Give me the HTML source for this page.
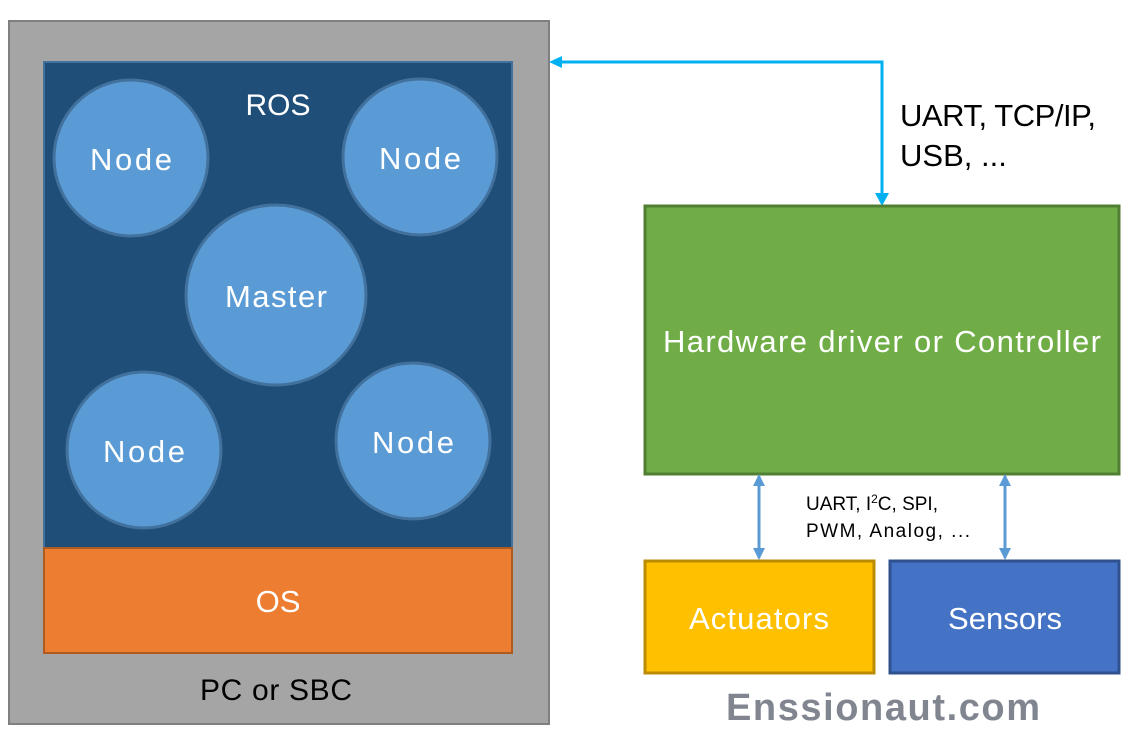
<!DOCTYPE html>
<html><head><meta charset="utf-8"><style>body{margin:0;background:#fff}svg{display:block}text{font-family:"Liberation Sans",sans-serif}</style></head><body>
<svg width="1148" height="733" viewBox="0 0 1148 733" xmlns="http://www.w3.org/2000/svg">
<defs>
<marker id="b" markerWidth="12" markerHeight="12" refX="10" refY="6" orient="auto-start-reverse" markerUnits="userSpaceOnUse"><path d="M0,0 L12,6 L0,12 z" fill="#5b9bd5"/></marker>
</defs>
<rect x="9" y="21" width="540" height="703" fill="#a5a5a5" stroke="#7f7f7f" stroke-width="2"/>
<rect x="44" y="62" width="468" height="486" fill="#1f4e79" stroke="#41719c" stroke-width="2"/>
<rect x="44" y="548" width="468" height="105" fill="#ed7d31" stroke="#ae5a21" stroke-width="2"/>
<text x="278" y="115" font-size="30" fill="#fff" text-anchor="middle">ROS</text>
<g fill="#5b9bd5" stroke="#41719c" stroke-width="3">
<ellipse cx="131" cy="158" rx="77" ry="78"/>
<ellipse cx="420" cy="157" rx="77" ry="78"/>
<ellipse cx="276" cy="295" rx="90" ry="90"/>
<ellipse cx="144" cy="450" rx="77" ry="78"/>
<ellipse cx="413" cy="441" rx="77" ry="78"/>
</g>
<g font-size="31" fill="#fff" text-anchor="middle">
<text x="131" y="170" textLength="82">Node</text>
<text x="420" y="169" textLength="82">Node</text>
<text x="276" y="307" textLength="102">Master</text>
<text x="144" y="462" textLength="82">Node</text>
<text x="413" y="453" textLength="82">Node</text>
<text x="278" y="612">OS</text>
</g>
<text x="276" y="700" font-size="30" fill="#000" text-anchor="middle" textLength="152">PC or SBC</text>
<polyline points="882,198 882,62 560,62" fill="none" stroke="#00b0f0" stroke-width="3"/>
<path d="M549,62 L562,56 L562,68 z" fill="#00b0f0"/>
<path d="M875,193 L882,206 L889,193 z" fill="#00b0f0"/>
<text x="900" y="126" font-size="31" fill="#000" textLength="196">UART, TCP/IP,</text>
<text x="900" y="166" font-size="31" fill="#000">USB, ...</text>
<rect x="645" y="206" width="474" height="268" fill="#70ad47" stroke="#507e32" stroke-width="3"/>
<text x="882" y="352" font-size="31" fill="#fff" text-anchor="middle" textLength="438">Hardware driver or Controller</text>
<line x1="759" y1="476" x2="759" y2="558" stroke="#5b9bd5" stroke-width="3" marker-start="url(#b)" marker-end="url(#b)"/>
<line x1="1005" y1="476" x2="1005" y2="558" stroke="#5b9bd5" stroke-width="3" marker-start="url(#b)" marker-end="url(#b)"/>
<text x="806" y="510" font-size="19" fill="#000">UART, I<tspan font-size="12" dy="-7">2</tspan><tspan dy="7">C, SPI,</tspan></text>
<text x="806" y="537" font-size="19" fill="#000" textLength="164">PWM, Analog, ...</text>
<rect x="645" y="561" width="229" height="112" fill="#ffc000" stroke="#bc8c00" stroke-width="3"/>
<rect x="890" y="561" width="229" height="112" fill="#4472c4" stroke="#2f528f" stroke-width="3"/>
<text x="759" y="629" font-size="31" fill="#fff" text-anchor="middle" textLength="140">Actuators</text>
<text x="1005" y="629" font-size="31" fill="#fff" text-anchor="middle" textLength="114">Sensors</text>
<text x="883" y="720" font-size="38" font-weight="bold" fill="#808590" text-anchor="middle" textLength="314">Enssionaut.com</text>
</svg>
</body></html>
